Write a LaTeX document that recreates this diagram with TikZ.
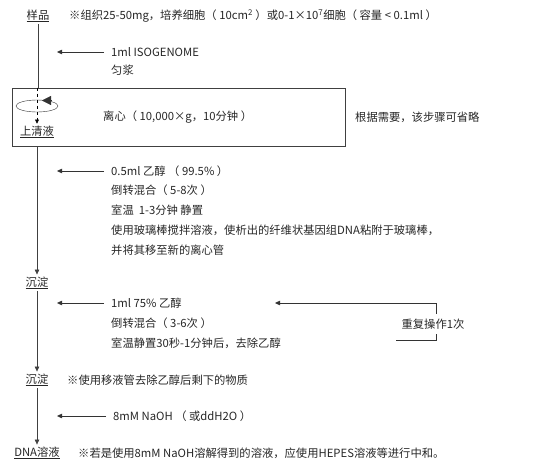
\documentclass[tikz,border=0pt]{standalone}
\usepackage{fontspec}
\setmainfont{Noto Sans CJK SC}
\usetikzlibrary{arrows.meta,positioning}

\begin{document}
\begin{tikzpicture}
        [x=1pt, y=-1pt, font=\fontsize{11.3}{13}\selectfont, text=black!85,
        stage/.style={inner sep=2pt},
        txt/.style={inner sep=1pt, anchor=west},
        flow/.style={draw=black!75, semithick, -{Triangle[length=5pt,width=4.5pt]}},
        addarrow/.style={draw=black!80, -{Triangle[length=5pt,width=4.5pt]}, shorten <=6pt},
        spinbox/.style={draw=black!75, thick, minimum width=333pt, minimum height=58pt, inner sep=0pt}]

        \useasboundingbox (0,0) rectangle (543,471);

        % sample
        \node [stage] (sample) at (38,16) {\underline{样品}};
        \node [txt] (note1) at (68,16) {※组织25-50mg，培养细胞（ 10cm\textsuperscript{2} ）或0-1×10\textsuperscript{7}细胞（ 容量 < 0.1ml ）};
        \node [txt] (homo) at (110,52) {1ml ISOGENOME};
        \node [txt] (homo2) at (110,70) {匀浆};
        \coordinate (a1) at (57,52);
        \draw [addarrow] (homo.west) -- (a1);

        % centrifuge
        \node [spinbox] (spin) at (178.5,117) {};
        \node [txt] (spintxt) at (102,117) {离心（ 10,000×g，10分钟 ）};
        \node [txt] (skip) at (354,117) {根据需要，该步骤可省略};
        \node [stage] (sup) at (37,132) {\underline{上清液}};
        \draw [draw=black!75] (sample) -- (spin.north -| sample);
        \draw [dashed, -{Triangle[length=4pt,width=4pt]}] (spin.north -| sup) -- (sup.north);
        \draw [black!80] (37,106) ellipse (21 and 6);
        \draw [black!80, -{Triangle[length=9pt,width=9pt]}] (52,100.5) -- (42,100.5);

        % ethanol precipitation
        \node [txt] (eth1) at (110,171) {0.5ml 乙醇 （ 99.5\% ）};
        \node [txt] (eth2) at (110,190) {倒转混合（ 5-8次 ）};
        \node [txt] (eth3) at (110,210) {室温 \ 1-3分钟 静置};
        \node [txt] (eth4) at (110,230) {使用玻璃棒搅拌溶液，使析出的纤维状基因组DNA粘附于玻璃棒，};
        \node [txt] (eth5) at (110,250) {并将其移至新的离心管};
        \coordinate (a2) at (57,171);
        \draw [addarrow] (eth1.west) -- (a2);

        \node [stage] (ppt1) at (37,283) {\underline{沉淀}};
        \draw [flow] (spin.south -| sup) -- (ppt1.north);

        % wash
        \node [txt] (wash1) at (110,303) {1ml 75\% 乙醇};
        \node [txt] (wash2) at (110,323) {倒转混合（ 3-6次 ）};
        \node [txt] (wash3) at (110,343) {室温静置30秒-1分钟后，去除乙醇};
        \coordinate (a3) at (57,303);
        \draw [addarrow] (wash1.west) -- (a3);

        \node [stage, inner sep=5pt] (rep) at (433,324) {重复操作1次};
        \coordinate (back) at (275,303);
        \draw [black!80, -{Triangle[length=5pt,width=4.5pt]}] ([xshift=3pt]rep.north) |- (back);
        \draw [black!80] ([xshift=3pt]rep.south) |- ([yshift=-6pt]rep.south west);

        \node [stage] (ppt2) at (37,380) {\underline{沉淀}};
        \node [txt] (note2) at (66,380) {※使用移液管去除乙醇后剩下的物质};
        \draw [flow] (ppt1) -- (ppt2);

        % dissolve
        \node [txt] (naoh) at (112,416) {8mM NaOH （ 或ddH2O ）};
        \coordinate (a4) at (57,416);
        \draw [addarrow] (naoh.west) -- (a4);

        \node [stage] (dna) at (37,453) {\underline{DNA溶液}};
        \node [txt] (note3) at (77,453) {※若是使用8mM NaOH溶解得到的溶液，应使用HEPES溶液等进行中和。};
        \draw [flow] (ppt2) -- (dna);
    \end{tikzpicture}
\end{document}
